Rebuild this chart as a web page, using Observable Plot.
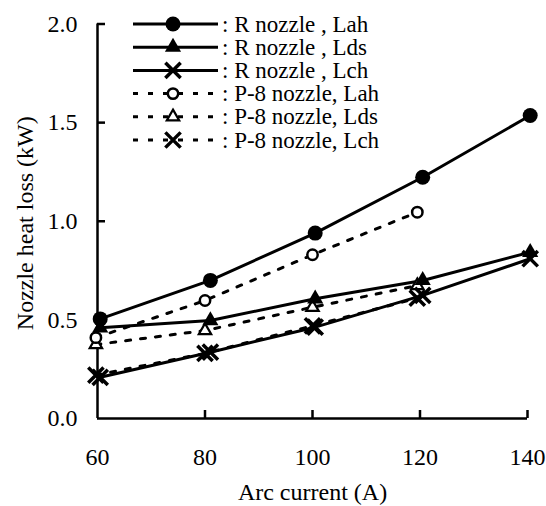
<!DOCTYPE html>
<html><head><meta charset="utf-8">
<script src="https://cdn.jsdelivr.net/npm/d3@7"></script>
<script src="https://cdn.jsdelivr.net/npm/@observablehq/plot@0.6"></script>
<style>body{margin:0;background:#fff} #chart svg{display:block}</style>
</head><body><div id="chart"></div>
<script>
// ---- data ----
const currentR  = [60.5, 81, 100.5, 120.5, 140.5];   // Arc current (A), R nozzle
const currentP8 = [59.7, 80, 100, 119.5];            // Arc current (A), P-8 nozzle
const rLah = [0.505, 0.70, 0.94, 1.223, 1.536];
const rLds = [0.46, 0.497, 0.607, 0.70, 0.843];
const rLch = [0.209, 0.336, 0.463, 0.624, 0.81];
const pLah = [0.41, 0.598, 0.83, 1.046];
const pLds = [0.375, 0.446, 0.564, 0.674];
const pLch = [0.22, 0.33, 0.47, 0.61];
const seriesNames = [": R nozzle , Lah", ": R nozzle , Lds", ": R nozzle , Lch",
                     ": P-8 nozzle, Lah", ": P-8 nozzle, Lds", ": P-8 nozzle, Lch"];
const xTicks = [60, 80, 100, 120, 140];
const yTicks = [0.0, 0.5, 1.0, 1.5, 2.0];
const xTitle = "Arc current (A)";
const yTitle = "Nozzle heat loss (kW)";

// ---- styling (kept separate from data) ----
const FONT = "'Liberation Serif', 'Times New Roman', Times, serif";
const DASH = "5,10";
const markerStyle = {
  filledCircle: {symbol: "circle",   r: 7.5, fill: "black", stroke: "none"},
  filledTri:    {symbol: "triangle", r: 6,   fill: "black", stroke: "none"},
  cross:        {symbol: "times",    r: 7,   fill: "none",  stroke: "black", strokeWidth: 3.5},
  openCircle:   {symbol: "circle",   r: 5.2, fill: "white", stroke: "black", strokeWidth: 2.5},
  openTri:      {symbol: "triangle", r: 4.6, fill: "white", stroke: "black", strokeWidth: 2.2}
};
const series = [
  {name: seriesNames[0], xs: currentR,  ys: rLah, dashed: false, marker: "filledCircle"},
  {name: seriesNames[1], xs: currentR,  ys: rLds, dashed: false, marker: "filledTri"},
  {name: seriesNames[2], xs: currentR,  ys: rLch, dashed: false, marker: "cross"},
  {name: seriesNames[3], xs: currentP8, ys: pLah, dashed: true,  marker: "openCircle"},
  {name: seriesNames[4], xs: currentP8, ys: pLds, dashed: true,  marker: "openTri"},
  {name: seriesNames[5], xs: currentP8, ys: pLch, dashed: true,  marker: "cross"}
];
series.forEach(s => s.rows = s.xs.map((x, i) => ({current: x, loss: s.ys[i]})));

const lineMarks = series.map(s => Plot.line(s.rows, {
  x: "current", y: "loss", stroke: "black", strokeWidth: 3,
  strokeDasharray: s.dashed ? DASH : null
}));
const dotMarks = series.slice().reverse().map(s => Plot.dot(s.rows, {
  x: "current", y: "loss", ...markerStyle[s.marker]
}));

const chart = Plot.plot({
  width: 546, height: 506,
  marginLeft: 97, marginRight: 19, marginTop: 23.5, marginBottom: 88,
  style: {fontFamily: FONT, fontSize: "24px", background: "white", color: "black"},
  x: {domain: [60, 140], label: null},
  y: {domain: [0, 2], label: null},
  marks: [
    Plot.axisY(yTicks.filter(v => v > 0), {tickSize: 8, dx: 8, strokeWidth: 2.5, tickFormat: () => "", label: null}),
    Plot.axisY(yTicks, {tickSize: 0, tickPadding: 20, tickFormat: d => d.toFixed(1), fontSize: 24, fontFamily: FONT, label: null}),
    Plot.axisX(xTicks.slice(1), {tickSize: 8, dy: -8, strokeWidth: 2.5, tickFormat: () => "", label: null}),
    Plot.axisX(xTicks, {tickSize: 0, tickPadding: 29, tickFormat: d => String(d), fontSize: 24, fontFamily: FONT, label: null}),
    Plot.ruleX([60], {strokeWidth: 2.5}),
    Plot.ruleY([0], {strokeWidth: 2.5}),
    ...lineMarks,
    ...dotMarks,
    Plot.text([xTitle], {text: d => d, frameAnchor: "bottom", textAnchor: "middle", lineAnchor: "middle", dy: 74, fontSize: 24, fontFamily: FONT}),
    Plot.text([yTitle], {text: d => d, frameAnchor: "left", textAnchor: "middle", lineAnchor: "middle", rotate: -90, dx: -72, dy: 2, fontSize: 24, fontFamily: FONT})
  ]
});
document.getElementById("chart").appendChild(chart);

// ---- legend (inside plot area, upper left) ----
const svg = d3.select(chart);
const leg = svg.append("g").attr("class", "legend");
const lx0 = 133, lx1 = 218, lmx = 173, ltx = 222, ly0 = 24, ldy = 23.2;
series.forEach((s, i) => {
  const y = ly0 + i * ldy;
  leg.append("line").attr("x1", lx0).attr("x2", lx1).attr("y1", y).attr("y2", y)
    .attr("stroke", "black").attr("stroke-width", 3)
    .attr("stroke-dasharray", s.dashed ? DASH : null);
  const m = markerStyle[s.marker];
  const symType = {circle: d3.symbolCircle, triangle: d3.symbolTriangle, times: d3.symbolTimes}[m.symbol];
  leg.append("path")
    .attr("d", d3.symbol(symType, Math.PI * m.r * m.r)())
    .attr("transform", `translate(${lmx},${y})`)
    .attr("fill", m.fill).attr("stroke", m.stroke)
    .attr("stroke-width", m.strokeWidth || null);
  leg.append("text").attr("x", ltx).attr("y", y).attr("dy", "0.33em")
    .attr("text-anchor", "start")
    .style("font-family", FONT).style("font-size", "23px").attr("fill", "black")
    .text(s.name);
});
</script>
</body></html>
